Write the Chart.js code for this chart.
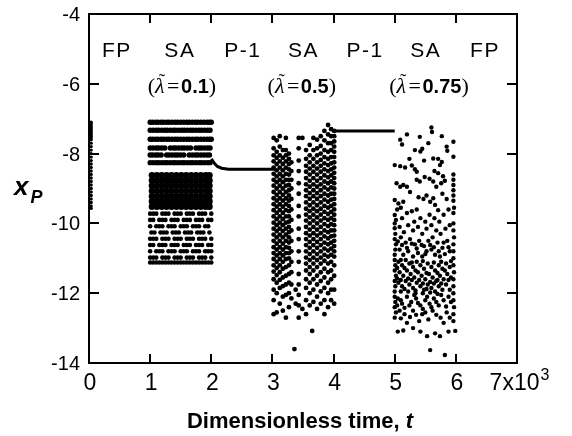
<!DOCTYPE html>
<html><head><meta charset="utf-8">
<script src="https://cdn.jsdelivr.net/npm/chart.js@4.4.1/dist/chart.umd.min.js"></script>
<style>html,body{margin:0;padding:0;background:#fff}#wrap{width:572px;height:436px}</style>
</head><body><div id="wrap"><canvas id="c" width="572" height="436"></canvas></div>
<script>
// ---------- axis ticks & labels ----------
const xTicks = [0,1,2,3,4,5,6,7];
const xTickLabels = ['0','1','2','3','4','5','6','7x10'];
const xTickLastSup = '3';
const yTicks = [-4,-6,-8,-10,-12,-14];
const regimeLabels = ['FP','SA','P-1','SA','P-1','SA','FP'];
const lambdaValues = ['0.1','0.5','0.75'];
const xTitle = 'Dimensionless time, ';
const xTitleVar = 't';
const yTitleVar = 'x';
const yTitleSub = 'P';

// ---------- data (t in units of 10^3, x_P) ----------
// FP transient column: [t, x...]
const fpCols = [
  [0.035, -7.1,-7.15,-7.2,-7.25,-7.3,-7.35,-7.4,-7.45,-7.5,-7.55,-7.6,-7.7,-7.8,-7.9,-8.0,-8.1,-8.2,-8.3,-8.4,-8.5,-8.6,-8.7,-8.8,-8.9,-9.0,-9.1,-9.2,-9.3,-9.4,-9.5,-9.57]
];
// SA (lambda=0.1) upper bands: [x, t...]
const sa1Bands = [
  [-7.1, 1.0,1.04,1.09,1.13,1.18,1.22,1.27,1.31,1.36,1.41,1.45,1.5,1.55,1.6,1.64,1.69,1.74,1.78,1.83,1.88,1.93,1.97,2.0],
  [-7.33, 1.0,1.05,1.1,1.14,1.19,1.24,1.28,1.33,1.38,1.42,1.47,1.52,1.56,1.61,1.66,1.7,1.75,1.8,1.84,1.89,1.94,1.98],
  [-7.59, 1.0,1.04,1.09,1.13,1.18,1.22,1.27,1.31,1.36,1.41,1.45,1.5,1.55,1.6,1.64,1.69,1.74,1.78,1.83,1.88,1.93,1.97,2.0],
  [-7.84, 1.0,1.05,1.1,1.14,1.19,1.24,1.33,1.38,1.42,1.47,1.52,1.56,1.61,1.66,1.75,1.8,1.84,1.89,1.94,1.98],
  [-8.04, 1.0,1.04,1.09,1.13,1.18,1.27,1.31,1.36,1.41,1.45,1.5,1.55,1.64,1.69,1.74,1.78,1.83,1.88,1.93,1.97],
  [-8.26, 1.0,1.05,1.1,1.14,1.19,1.24,1.28,1.33,1.38,1.42,1.47,1.52,1.56,1.61,1.66,1.7,1.75,1.8,1.84,1.89,1.94,1.98]
];
// SA (lambda=0.1) dense core: [x, t...]
const sa1Core = [
  [-8.62, 1.03,1.11,1.19,1.27,1.35,1.43,1.51,1.59,1.67,1.75,1.83,1.91,1.97],
  [-8.77, 1.03,1.11,1.19,1.27,1.35,1.43,1.51,1.59,1.67,1.75,1.83,1.91,1.97],
  [-8.92, 1.03,1.11,1.19,1.27,1.35,1.43,1.51,1.59,1.67,1.75,1.83,1.91,1.97],
  [-9.07, 1.03,1.11,1.19,1.27,1.35,1.43,1.51,1.59,1.67,1.75,1.83,1.91,1.97],
  [-9.22, 1.03,1.11,1.19,1.27,1.35,1.43,1.51,1.59,1.67,1.75,1.83,1.91,1.97],
  [-9.37, 1.03,1.11,1.19,1.27,1.35,1.43,1.51,1.59,1.67,1.75,1.83,1.91,1.97],
  [-9.52, 1.03,1.11,1.19,1.27,1.35,1.43,1.51,1.59,1.67,1.75,1.83,1.91,1.97]
];
// SA (lambda=0.1) lower lattice: [x, t...]
const sa1Net = [
  [-9.72, 1.0,1.05,1.1,1.2,1.25,1.3,1.4,1.45,1.5,1.6,1.65,1.7,1.8,1.85,1.9,2.0],
  [-9.9, 1.0,1.05,1.15,1.2,1.25,1.35,1.4,1.45,1.55,1.6,1.65,1.75,1.8,1.85,1.95,2.0],
  [-10.08, 1.0,1.1,1.15,1.2,1.3,1.35,1.4,1.5,1.55,1.6,1.7,1.75,1.8,1.9,1.95],
  [-10.26, 1.02,1.07,1.17,1.22,1.27,1.37,1.42,1.47,1.57,1.62,1.67,1.77,1.82,1.87,1.97],
  [-10.44, 1.0,1.05,1.1,1.2,1.25,1.3,1.4,1.45,1.5,1.6,1.65,1.7,1.8,1.85,1.9,2.0],
  [-10.62, 1.0,1.05,1.15,1.2,1.25,1.35,1.4,1.45,1.55,1.6,1.65,1.75,1.8,1.85,1.95,2.0],
  [-10.8, 1.0,1.1,1.15,1.2,1.3,1.35,1.4,1.5,1.55,1.6,1.7,1.75,1.8,1.9,1.95,2.0],
  [-10.98, 1.0,1.05,1.1,1.2,1.25,1.3,1.4,1.45,1.5,1.6,1.65,1.7,1.8,1.85,1.9,2.0],
  [-11.12, 1.0,1.05,1.1,1.15,1.2,1.25,1.3,1.35,1.4,1.45,1.5,1.55,1.6,1.65,1.7,1.75,1.8,1.85,1.9,1.95,2.0]
];
// SA (lambda=0.5): [t, x...]
const sa2Cols = [
  [3.02, -7.55,-7.85,-8.05,-8.22,-8.4,-8.58,-8.75,-8.92,-9.1,-9.28,-9.45,-9.62,-9.8,-9.98,-10.15,-10.32,-10.5,-10.68,-10.85,-11.02,-11.2,-11.38,-11.6,-11.9,-12.2,-12.6],
  [3.07, -7.62,-7.95,-8.12,-8.3,-8.48,-8.65,-8.82,-9.0,-9.18,-9.35,-9.52,-9.7,-9.88,-10.05,-10.22,-10.4,-10.58,-10.75,-10.92,-11.1,-11.28,-11.48,-11.7,-12.0,-12.55],
  [3.12, -7.5,-7.8,-8.05,-8.22,-8.4,-8.58,-8.75,-8.92,-9.1,-9.28,-9.45,-9.62,-9.8,-9.98,-10.15,-10.32,-10.5,-10.68,-10.85,-11.02,-11.2,-11.4,-11.62,-11.85,-12.3],
  [3.17, -7.9,-8.12,-8.3,-8.48,-8.65,-8.82,-9.0,-9.18,-9.35,-9.52,-9.7,-9.88,-10.05,-10.22,-10.4,-10.58,-10.75,-10.92,-11.1,-11.3,-11.55,-11.8,-12.1,-12.5],
  [3.22, -7.55,-7.9,-8.05,-8.22,-8.4,-8.58,-8.75,-8.92,-9.1,-9.28,-9.45,-9.62,-9.8,-9.98,-10.15,-10.32,-10.5,-10.68,-10.85,-11.02,-11.25,-11.5,-11.75,-12.05,-12.7],
  [3.27, -8.0,-8.15,-8.3,-8.45,-8.6,-8.75,-8.9,-9.05,-9.2,-9.35,-9.5,-9.65,-9.8,-9.95,-10.1,-10.25,-10.4,-10.55,-10.7,-10.85,-11.0,-11.2,-11.45,-11.7,-12.0,-12.4],
  [3.31, -8.25,-8.5,-8.75,-9.0,-9.3,-9.6,-9.9,-10.2,-10.5,-10.8,-11.1,-11.4,-11.75,-12.15],
  [3.36, -13.6],
  [3.38, -11.9,-12.3],
  [3.43, -7.55,-7.85,-8.2,-8.5,-8.85,-9.15,-9.5,-9.8,-10.15,-10.45,-10.8,-11.1,-11.45,-11.75,-12.05,-12.35,-12.7],
  [3.49, -7.55,-12.45],
  [3.55, -7.9,-8.15,-8.35,-8.52,-8.7,-8.88,-9.05,-9.22,-9.4,-9.58,-9.75,-9.92,-10.1,-10.28,-10.45,-10.62,-10.8,-10.98,-11.15,-11.35,-11.6,-11.85,-12.2,-12.6],
  [3.61, -7.75,-8.05,-8.25,-8.43,-8.6,-8.78,-8.95,-9.13,-9.3,-9.48,-9.65,-9.83,-10.0,-10.18,-10.35,-10.53,-10.7,-10.88,-11.05,-11.25,-11.45,-11.7,-12.0,-12.35],
  [3.65, -13.08],
  [3.67, -7.55,-7.9,-8.15,-8.35,-8.52,-8.7,-8.88,-9.05,-9.22,-9.4,-9.58,-9.75,-9.92,-10.1,-10.28,-10.45,-10.62,-10.8,-10.98,-11.15,-11.35,-11.6,-11.9,-12.25],
  [3.73, -7.6,-7.85,-8.05,-8.25,-8.43,-8.6,-8.78,-8.95,-9.13,-9.3,-9.48,-9.65,-9.83,-10.0,-10.18,-10.35,-10.53,-10.7,-10.88,-11.05,-11.25,-11.5,-11.75,-12.1,-12.45],
  [3.79, -7.5,-7.78,-8.0,-8.18,-8.35,-8.52,-8.7,-8.88,-9.05,-9.22,-9.4,-9.58,-9.75,-9.92,-10.1,-10.28,-10.45,-10.62,-10.8,-10.98,-11.15,-11.4,-11.65,-11.95,-12.3],
  [3.85, -7.35,-7.62,-7.9,-8.1,-8.28,-8.45,-8.62,-8.8,-8.97,-9.15,-9.32,-9.5,-9.67,-9.85,-10.02,-10.2,-10.37,-10.55,-10.72,-10.9,-11.07,-11.3,-11.55,-11.85,-12.2,-12.6],
  [3.91, -7.18,-7.45,-7.7,-7.95,-8.15,-8.33,-8.5,-8.68,-8.85,-9.03,-9.2,-9.38,-9.55,-9.73,-9.9,-10.08,-10.25,-10.43,-10.6,-10.78,-10.95,-11.15,-11.4,-11.7,-12.0,-12.4],
  [3.96, -7.3,-7.5,-7.7,-7.9,-8.1,-8.28,-8.45,-8.62,-8.8,-8.97,-9.15,-9.32,-9.5,-9.67,-9.85,-10.02,-10.2,-10.37,-10.55,-10.72,-10.9,-11.1,-11.35,-11.6,-11.9,-12.2],
  [4.01, -7.35,-7.5,-7.65,-7.8,-7.95,-8.1,-8.25,-8.4,-8.55,-8.7,-8.85,-9.0,-9.15,-9.3,-9.45,-9.6,-9.75,-9.9,-10.05,-10.2,-10.35,-10.5,-10.65,-10.8,-10.95,-11.2,-11.5,-11.9,-12.3]
];
// SA (lambda=0.75): flat [t, x, t, x, ...]
const sa3Pairs = [
  5.6,-7.25, 5.61,-7.38, 5.41,-7.52, 5.09,-7.6, 5.12,-7.74, 5.77,-7.5, 5.85,-7.8, 5.86,-7.92, 5.96,-7.66, 5.33,-7.9, 5.42,-7.94, 5.45,-7.86, 5.2,-7.45, 5.55,-7.7,
  5.96,-8.09, 5.63,-8.14, 5.71,-8.15, 5.77,-8.24, 5.74,-8.33, 5.0,-8.33, 5.09,-8.36, 5.17,-8.4, 5.28,-8.34, 5.33,-8.45, 5.36,-8.52, 5.65,-8.5, 5.71,-8.56, 5.79,-8.65, 5.96,-8.6, 5.96,-8.75, 5.96,-8.9, 5.03,-8.85, 5.09,-8.95, 5.14,-8.9, 5.2,-8.95, 5.36,-8.75, 5.41,-8.8, 5.49,-8.67, 5.57,-8.72, 5.63,-8.8, 5.68,-8.95, 5.76,-8.85, 5.82,-8.78, 5.48,-8.2, 5.24,-8.15,
  5.0,-9.33, 5.06,-9.43, 5.14,-9.38, 5.39,-9.25, 5.47,-9.3, 5.52,-9.2, 5.58,-9.38, 5.63,-9.28, 5.66,-9.47, 5.71,-9.62, 5.96,-9.05, 5.96,-9.2, 5.96,-9.35, 5.97,-9.55, 5.96,-9.7, 5.0,-9.76, 5.02,-9.9, 5.0,-10.0, 5.2,-9.7, 5.28,-9.65, 5.36,-9.6, 5.57,-9.75, 5.65,-9.85, 5.73,-9.95, 5.8,-9.75, 5.88,-9.6, 5.1,-9.55, 5.25,-9.1, 5.32,-9.95, 5.42,-9.85, 5.5,-9.95, 5.85,-9.3, 5.78,-9.15, 5.04,-9.6, 5.12,-9.85,
  5.0,-10.14, 5.01,-10.3, 5.0,-10.45, 5.02,-10.6, 5.01,-10.75, 5.0,-10.9, 5.08,-10.1, 5.15,-10.25, 5.22,-10.05, 5.3,-10.2, 5.38,-10.1, 5.45,-10.3, 5.52,-10.15, 5.6,-10.05, 5.68,-10.2, 5.75,-10.3, 5.83,-10.15, 5.9,-10.05, 5.96,-10.0, 5.96,-10.2, 5.97,-10.4, 5.96,-10.6, 5.96,-10.8, 5.1,-10.4, 5.18,-10.55, 5.25,-10.45, 5.33,-10.6, 5.4,-10.5, 5.48,-10.65, 5.55,-10.5, 5.62,-10.4, 5.7,-10.55, 5.78,-10.7, 5.86,-10.5, 5.9,-10.8, 5.08,-10.75, 5.14,-10.9, 5.22,-10.8, 5.3,-10.95, 5.38,-10.85, 5.45,-10.95, 5.52,-10.8, 5.6,-10.75, 5.66,-10.9, 5.74,-10.95, 5.82,-10.88,
  5.05,-10.52, 5.12,-10.62, 5.2,-10.7, 5.28,-10.58, 5.36,-10.72, 5.44,-10.62, 5.5,-10.88, 5.58,-10.62, 5.64,-10.68, 5.72,-10.8, 5.8,-10.55, 5.88,-10.68,
  5.0,-11.05, 5.01,-11.2, 5.0,-11.35, 5.02,-11.5, 5.0,-11.65, 5.01,-11.8, 5.0,-11.95, 5.06,-11.1, 5.12,-11.2, 5.18,-11.05, 5.24,-11.15, 5.3,-11.25, 5.36,-11.1, 5.42,-11.2, 5.48,-11.3, 5.54,-11.15, 5.6,-11.25, 5.66,-11.35, 5.72,-11.2, 5.78,-11.3, 5.84,-11.15, 5.9,-11.25, 5.96,-11.0, 5.96,-11.2, 5.97,-11.4, 5.96,-11.6, 5.96,-11.8,
  5.08,-11.4, 5.14,-11.5, 5.2,-11.35, 5.26,-11.45, 5.32,-11.55, 5.38,-11.4, 5.44,-11.5, 5.5,-11.6, 5.56,-11.45, 5.62,-11.55, 5.68,-11.65, 5.74,-11.5, 5.8,-11.6, 5.86,-11.45, 5.92,-11.55,
  5.06,-11.7, 5.12,-11.8, 5.18,-11.65, 5.24,-11.75, 5.3,-11.85, 5.36,-11.7, 5.42,-11.8, 5.48,-11.9, 5.54,-11.75, 5.6,-11.85, 5.66,-11.95, 5.72,-11.8, 5.78,-11.9, 5.84,-11.75, 5.9,-11.9,
  5.04,-11.28, 5.1,-11.05, 5.16,-11.28, 5.22,-11.58, 5.28,-11.12, 5.34,-11.35, 5.4,-11.62, 5.46,-11.08, 5.52,-11.42, 5.58,-11.68, 5.64,-11.12, 5.7,-11.42, 5.76,-11.72, 5.82,-11.35, 5.88,-11.62, 5.04,-11.58, 5.1,-11.62, 5.16,-11.88, 5.28,-11.62, 5.34,-11.92, 5.46,-11.72, 5.52,-11.88, 5.64,-11.72, 5.7,-11.62, 5.76,-11.1, 5.92,-11.08,
  5.1,-11.95, 5.22,-11.95, 5.34,-12.0, 5.46,-12.0, 5.58,-11.98, 5.7,-12.02,
  5.0,-12.1, 5.01,-12.25, 5.0,-12.4, 5.02,-12.55, 5.0,-12.7, 5.05,-12.15, 5.12,-12.3, 5.2,-12.1, 5.27,-12.25, 5.35,-12.15, 5.42,-12.35, 5.5,-12.2, 5.57,-12.3, 5.64,-12.15, 5.72,-12.35, 5.8,-12.2, 5.88,-12.1, 5.96,-12.0, 5.96,-12.2, 5.97,-12.4, 5.96,-12.6, 5.96,-12.8, 5.08,-12.5, 5.16,-12.6, 5.3,-12.5, 5.45,-12.6, 5.62,-12.5, 5.75,-12.7, 5.85,-12.55, 5.55,-12.75, 5.4,-12.8, 5.2,-12.85,
  5.04,-12.35, 5.1,-12.2, 5.16,-12.42, 5.24,-12.35, 5.32,-12.05, 5.38,-12.28, 5.46,-12.45, 5.53,-12.1, 5.6,-12.4, 5.68,-12.25, 5.76,-12.05, 5.84,-12.38, 5.92,-12.25,
  5.1,-12.72, 5.25,-12.68, 5.35,-12.62, 5.5,-12.55, 5.68,-12.62, 5.8,-12.85, 5.9,-12.7,
  5.14,-13.07, 5.05,-13.1, 5.42,-13.1, 5.53,-13.23, 5.66,-13.15, 5.74,-13.23, 5.88,-13.1, 5.99,-13.08, 5.58,-13.63, 5.82,-13.77, 5.3,-13.0
];
// P-1 periodic segments: [t, x] points
const p1First = [[2.0,-8.15],[2.05,-8.28],[2.1,-8.37],[2.17,-8.42],[2.28,-8.45],[3.04,-8.45]];
const p1Second = [[4.0,-7.35],[5.0,-7.35]];

// ---------- builders ----------
function fromRows(rows){const o=[];rows.forEach(r=>{for(let i=1;i<r.length;i++)o.push({x:r[i],y:r[0]});});return o;}
function fromCols(cols){const o=[];cols.forEach(c=>{for(let i=1;i<c.length;i++)o.push({x:c[0],y:c[i]});});return o;}
function fromPairs(a){const o=[];for(let i=0;i<a.length;i+=2)o.push({x:a[i],y:a[i+1]});return o;}
function fromXY(a){return a.map(p=>({x:p[0],y:p[1]}));}

const SANS='"Liberation Sans", Arial, Helvetica, sans-serif';
const SERIF='"Liberation Serif", "Times New Roman", serif';

function pts(data,r){return {type:'scatter',data,pointRadius:r,pointHoverRadius:r,backgroundColor:'#000',borderWidth:0,pointBorderWidth:0};}
function line(data){return {type:'line',data,showLine:true,borderColor:'#000',borderWidth:3,pointRadius:0,tension:0,fill:false};}

const decor = {
  id:'decor',
  afterDraw(chart){
    const {ctx, chartArea:a, scales:{x,y}} = chart;
    ctx.save();
    ctx.fillStyle='#000';
    const L=Math.round(a.left), R=Math.round(a.right), T=Math.round(a.top), B=Math.round(a.bottom);
    // frame (2px)
    ctx.fillRect(L-1,T-1,R-L+2,2);
    ctx.fillRect(L-1,B-1,R-L+2,2);
    ctx.fillRect(L-1,T-1,2,B-T+2);
    ctx.fillRect(R-1,T-1,2,B-T+2);
    // inner ticks
    xTicks.forEach(v=>{const px=Math.round(x.getPixelForValue(v));
      ctx.fillRect(px-1,B-9,2,9); ctx.fillRect(px-1,T,2,9);});
    yTicks.forEach(v=>{const py=Math.round(y.getPixelForValue(v));
      ctx.fillRect(L,py-1,10,2); ctx.fillRect(R-10,py-1,10,2);});
    // x tick labels
    ctx.textBaseline='alphabetic';
    xTickLabels.forEach((s,i)=>{
      const px=x.getPixelForValue(xTicks[i]);
      if(i===xTickLabels.length-1){
        ctx.font='23px '+SANS; const w=ctx.measureText(s).width;
        ctx.font='16px '+SANS; const ws=ctx.measureText(xTickLastSup).width;
        const sx=px+2-(w+ws)/2;
        ctx.font='23px '+SANS; ctx.textAlign='left'; ctx.fillText(s,sx,B+27);
        ctx.font='16px '+SANS; ctx.fillText(xTickLastSup,sx+w+1,B+17);
      } else {
        ctx.font='23px '+SANS; ctx.textAlign='center'; ctx.fillText(s,px+1,B+27);
      }
    });
    // y tick labels
    ctx.font='20px '+SANS; ctx.textAlign='right';
    yTicks.forEach(v=>{ctx.fillText(String(v),L-9,y.getPixelForValue(v)+7);});
    // regime labels
    const regT=[0.44,1.47,2.5,3.49,4.5,5.49,6.46];
    ctx.font='21px '+SANS; ctx.textAlign='center';
    try{ctx.letterSpacing='1.5px';}catch(e){}
    regimeLabels.forEach((s,i)=>ctx.fillText(s,x.getPixelForValue(regT[i])+1,y.getPixelForValue(-5.23)));
    try{ctx.letterSpacing='0px';}catch(e){}
    // lambda labels
    const lamT=[1.52,3.48,5.56];
    lambdaValues.forEach((val,i)=>{
      const cx=x.getPixelForValue(lamT[i]); const by=y.getPixelForValue(-6.25);
      const parts=[
        ['(', '22px '+SERIF, 0],
        ['λ', 'italic 22px '+SERIF, 1],
        ['=', '22px '+SERIF, 3],
        [val, 'bold 20px '+SANS, 0],
        [')', '22px '+SERIF, 0]
      ];
      let w=0; parts.forEach(p=>{ctx.font=p[1]; w+=ctx.measureText(p[0]).width+p[2];});
      let cur=cx-w/2; ctx.textAlign='left';
      parts.forEach(p=>{ctx.font=p[1]; const pw=ctx.measureText(p[0]).width;
        if(p[0]==='='){cur+=1.5; ctx.fillText(p[0],cur,by); cur+=pw+1.5;}
        else{ctx.fillText(p[0],cur,by);
          if(p[0]==='λ'){ctx.font='19px '+SERIF; const tw=ctx.measureText('˜').width; ctx.fillText('˜',cur+pw/2-tw/2+2,by-6);}
          cur+=pw+(p[0]==='λ'?1:0);}
      });
    });
    // x title
    ctx.font='bold 22px '+SANS; const w1=ctx.measureText(xTitle).width;
    ctx.font='bold italic 22px '+SANS; const w2=ctx.measureText(xTitleVar).width;
    let sx=(L+R)/2-3-(w1+w2)/2; ctx.textAlign='left';
    ctx.font='bold 22px '+SANS; ctx.fillText(xTitle,sx,428);
    ctx.font='bold italic 22px '+SANS; ctx.fillText(xTitleVar,sx+w1,428);
    // y title
    ctx.font='bold italic 26px '+SANS; ctx.fillText(yTitleVar,14,195);
    const wx=ctx.measureText(yTitleVar).width;
    ctx.font='bold italic 18px '+SANS; ctx.fillText(yTitleSub,14+wx+2,203);
    ctx.restore();
  }
};

new Chart(document.getElementById('c'),{
  data:{datasets:[
    line(fromXY(p1First)),
    line(fromXY(p1Second)),
    pts(fromCols(fpCols),1.7),
    pts(fromRows(sa1Bands),2.7),
    pts(fromRows(sa1Core),3.3),
    pts(fromRows(sa1Net),2.3),
    pts(fromCols(sa2Cols),2.4),
    pts(fromPairs(sa3Pairs),2.2)
  ]},
  options:{
    responsive:false, animation:false, devicePixelRatio:1,
    layout:{padding:{left:0,top:14,right:55,bottom:0}},
    plugins:{legend:{display:false},tooltip:{enabled:false}},
    scales:{
      x:{type:'linear',min:0,max:7,
        afterFit:s=>{s.height=73; s.paddingLeft=0; s.paddingRight=0;},
        grid:{display:false},border:{display:false},
        ticks:{display:false}},
      y:{type:'linear',min:-14,max:-4,
        afterFit:s=>{s.width=89; s.paddingTop=0; s.paddingBottom=0;},
        grid:{display:false},border:{display:false},
        ticks:{display:false}}
    }
  },
  plugins:[decor]
});
</script></body></html>
